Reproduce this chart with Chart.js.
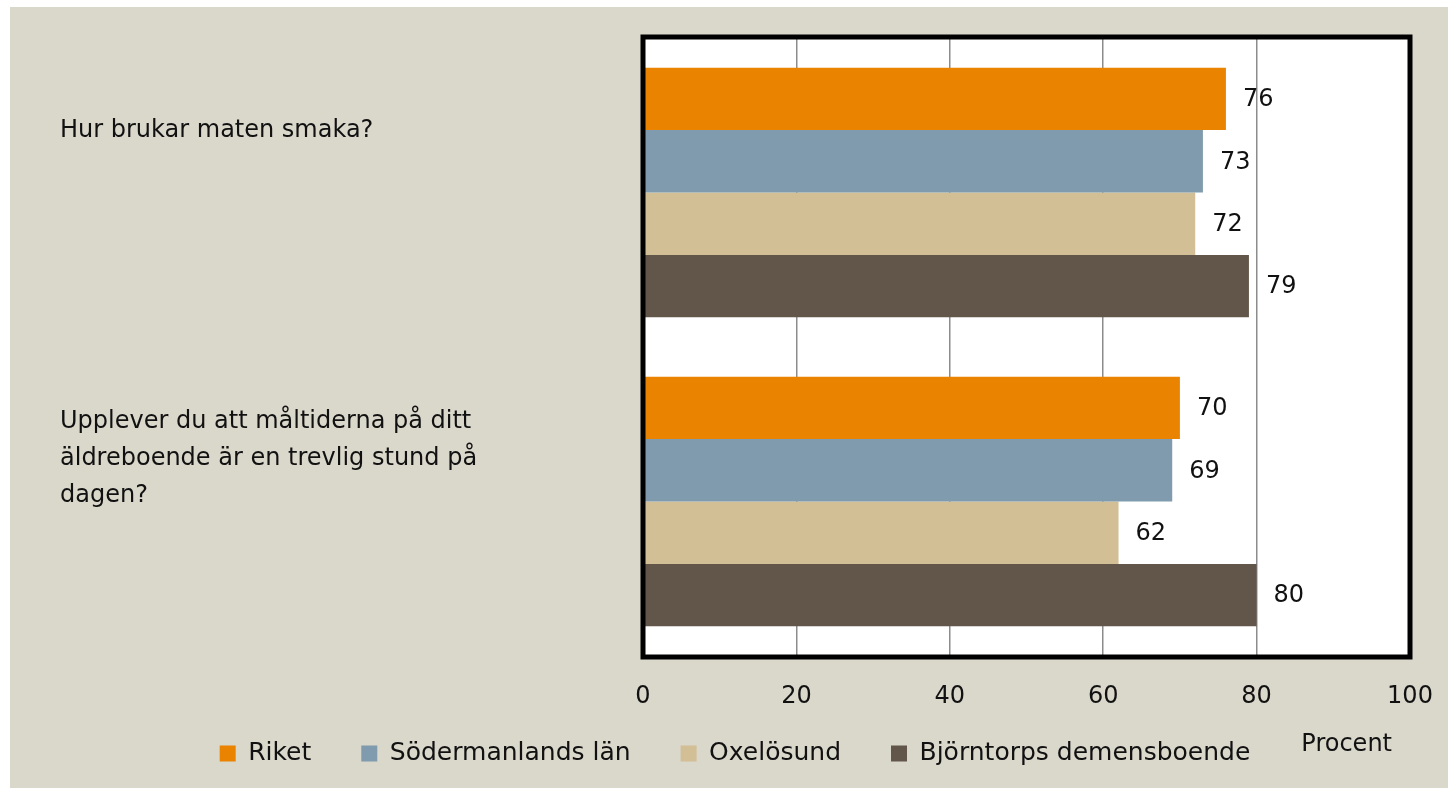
<!DOCTYPE html>
<html>
<head>
<meta charset="utf-8">
<script src="https://cdn.jsdelivr.net/npm/chart.js@4"></script>
<style>
  html, body { margin: 0; padding: 0; background: #fff; }
  #wrap { position: absolute; left: 10px; top: 7px; width: 1438px; height: 781px; background: #DAD7CB; }
</style>
</head>
<body>
<div id="wrap"><canvas id="chart" width="1438" height="781"></canvas></div>
<script>
const questions = [
    ['Hur brukar maten smaka?', ''],
    ['Upplever du att måltiderna på ditt', 'äldreboende är en trevlig stund på', 'dagen?']
];
const seriesNames = ['Riket', 'Södermanlands län', 'Oxelösund', 'Björntorps demensboende'];
const seriesColors = ['#E98300', '#7F9BAD', '#D3BF96', '#62554A'];
const riket = [76, 70];
const sodermanland = [73, 69];
const oxelosund = [72, 62];
const bjorntorp = [79, 80];
const xTicks = [0, 20, 40, 60, 80, 100];
const axisTitle = 'Procent';

const FONT = 'DejaVu Sans';
const SIZE = 24;
const ctx = document.querySelector('#chart').getContext('2d');

// nollställ skalornas egen marginal så att diagramytan hamnar rätt
function noPad(scale) {
    scale.paddingTop = 0;
    scale.paddingBottom = 0;
    scale.paddingLeft = 0;
    scale.paddingRight = 0;
}

// värden till höger om staplarna
const valueLabels = {
    id: 'valueLabels',
    afterDatasetsDraw(chart) {
        const c = chart.ctx;
        c.save();
        c.font = `${SIZE}px "${FONT}"`;
        c.fillStyle = '#111';
        c.textAlign = 'left';
        c.textBaseline = 'middle';
        chart.data.datasets.forEach((ds, i) => {
            chart.getDatasetMeta(i).data.forEach((bar, j) => {
                c.fillText(ds.data[j], bar.x + 17, bar.y + 1);
            });
        });
        c.restore();
    }
};

// svart ram runt diagramytan + axeltitel
const frame = {
    id: 'frame',
    afterLayout(chart) {
        // x-axeln är lågt satt för att legenden ska ligga nära, låt etiketterna synas ändå
        chart.scales.x.bottom += 40;
    },
    beforeDraw(chart) {
        const a = chart.chartArea;
        const c = chart.ctx;
        c.save();
        c.fillStyle = '#fff';
        c.fillRect(a.left, a.top, a.right - a.left, a.bottom - a.top);
        c.restore();
    },
    afterDraw(chart) {
        const a = chart.chartArea;
        const c = chart.ctx;
        const x = chart.scales.x;
        c.save();
        c.strokeStyle = '#000';
        c.lineWidth = 5;
        c.strokeRect(a.left, a.top - 1, a.right - a.left, a.bottom - a.top + 2);
        c.font = `${SIZE}px "${FONT}"`;
        c.fillStyle = '#111';
        c.textAlign = 'right';
        c.textBaseline = 'middle';
        c.fillText(axisTitle, x.right - 18, x.top + 89);
        c.restore();
    }
};

const datasets = [riket, sodermanland, oxelosund, bjorntorp].map((d, i) => ({
    label: seriesNames[i],
    data: d,
    backgroundColor: seriesColors[i],
    borderWidth: 0,
    barPercentage: 1,
    categoryPercentage: 0.808
}));

new Chart(ctx, {
    type: 'bar',
    data: { labels: questions, datasets: datasets },
    options: {
        indexAxis: 'y',
        responsive: false,
        animation: false,
        layout: { padding: { left: 50, right: 38, top: 31, bottom: 12 } },
        scales: {
            x: {
                min: 0,
                max: 100,
                afterBuildTicks(scale) { scale.ticks = xTicks.map(v => ({ value: v })); },
                grid: { color: '#8C8C8C', lineWidth: 1.5, drawTicks: false },
                border: { display: false },
                ticks: { font: { family: FONT, size: SIZE }, color: '#111', padding: 26 },
                afterFit(scale) { scale.height = 35; noPad(scale); }
            },
            y: {
                grid: { display: false },
                border: { display: false },
                ticks: {
                    crossAlign: 'far',
                    labelOffset: -43,
                    font: { family: FONT, size: SIZE, lineHeight: 1.55 },
                    color: '#111'
                },
                afterFit(scale) { scale.width = 583; noPad(scale); }
            }
        },
        plugins: {
            legend: {
                position: 'bottom',
                labels: {
                    font: { family: FONT, size: 25 },
                    color: '#111',
                    boxWidth: 16,
                    boxHeight: 16,
                    padding: 50
                }
            },
            tooltip: { enabled: false }
        }
    },
    plugins: [frame, valueLabels]
});
</script>
</body>
</html>
